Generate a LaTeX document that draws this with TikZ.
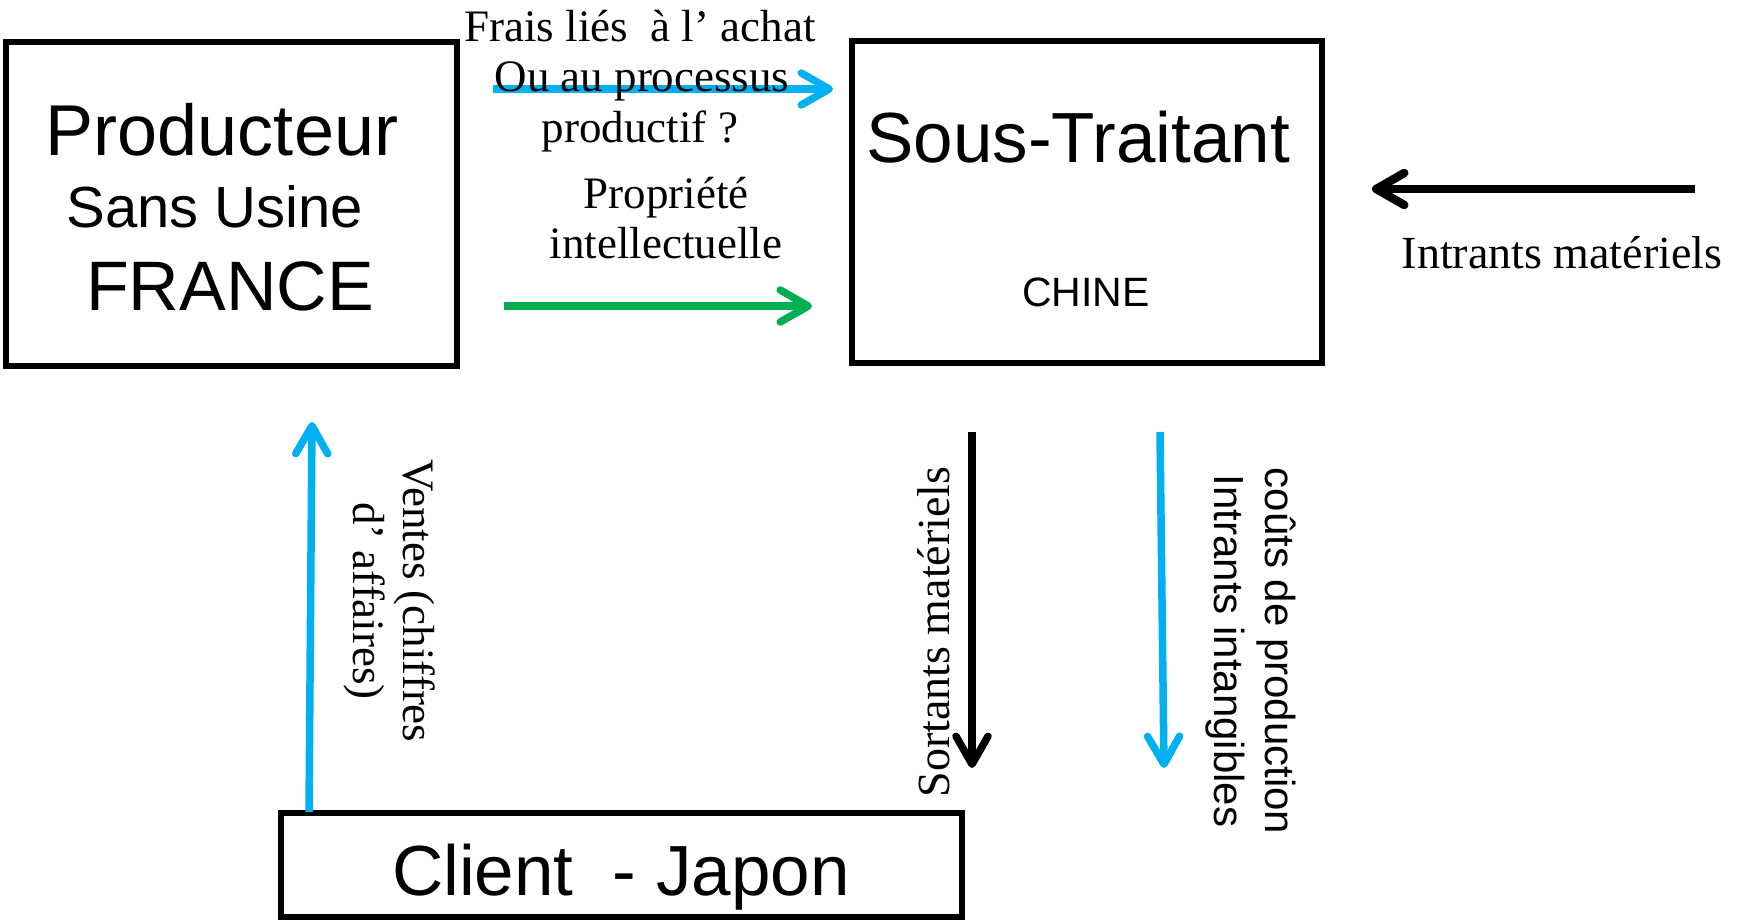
\documentclass[tikz,border=0pt]{standalone}
\usepackage{fontspec}
\setmainfont{Liberation Serif}
\newfontfamily\arial{Liberation Sans}
\usetikzlibrary{arrows.meta}
\definecolor{cblue}{HTML}{00B0F0}
\definecolor{cgreen}{HTML}{00B050}
\begin{document}
\begin{tikzpicture}[x=1pt,y=-1pt,
  box/.style={draw, line width=5.5pt, inner sep=0pt},
  big/.style={font=\arial\fontsize{72}{80}\selectfont, inner sep=0pt, anchor=base},
  serif/.style={font=\fontsize{45}{50}\selectfont, inner sep=0pt},
  flow/.style={line width=7.5pt,
    -{Straight Barb[length=28pt,width=32pt,line cap=round,line join=round]}},
  heavy/.style={line width=8.5pt,
    -{Straight Barb[length=28pt,width=32pt,line cap=round,line join=round]}}
]
\useasboundingbox (0,0) rectangle (1737,922);
% boxes
\node (prod) [box, minimum width=451pt, minimum height=324pt] at (231.5,204) {};
\node (sous) [box, minimum width=470pt, minimum height=322pt] at (1087,202) {};
\node (client) [box, minimum width=681pt, minimum height=104pt] at (621.5,865) {};
% box texts
\node (p1) [big] at (222,155) {Producteur};
\node (p2) [big, font=\arial\fontsize{58}{64}\selectfont] at (215,227) {Sans Usine};
\node (p3) [big, font=\arial\fontsize{70}{78}\selectfont] at (230,310) {FRANCE};
\node (s1) [big, font=\arial\fontsize{71}{78}\selectfont] at (1078,162) {Sous-Traitant};
\node (s2) [big, font=\arial\fontsize{41}{48}\selectfont] at (1086,306) {CHINE};
\node (c1) [big, font=\arial\fontsize{71}{78}\selectfont] at (621,895) {Client\ \ - Japon};
% arrow end points
\coordinate (a1s) at (493,89);   \coordinate (a1e) at (833,89);
\coordinate (a2s) at (504,306);  \coordinate (a2e) at (812,306);
\coordinate (a3s) at (1695,189); \coordinate (a3e) at (1372,189);
\coordinate (a4s) at (309,812);  \coordinate (a4e) at (312,422);
\coordinate (a5s) at (972,432);  \coordinate (a5e) at (972,768);
\coordinate (a6s) at (1160,432); \coordinate (a6e) at (1164,768);
% arrows
\draw[flow, cblue] (a1s) -- (a1e);
\draw[flow, cgreen] (a2s) -- (a2e);
\draw[heavy] (a3s) -- (a3e);
\draw[flow, cblue] (a4s) -- (a4e);
\draw[heavy, line width=7.5pt] (a5s) -- (a5e);
\draw[flow, cblue] (a6s) -- (a6e);
% labels
\node (t1) [serif, anchor=base] at (640,41) {Frais liés\ \ à l’ achat};
\node (t2) [serif, anchor=base] at (642,91) {Ou au processus};
\node (t3) [serif, anchor=base] at (640,142) {productif ?};
\node (t4) [serif, anchor=base] at (666,208) {Propriété};
\node (t5) [serif, anchor=base] at (666,258) {intellectuelle};
\node (t6) [serif, font=\fontsize{46}{50}\selectfont, anchor=base] at (1562,268) {Intrants matériels};
\node (t7) [serif, rotate=-90, align=center] at (390,601) {Ventes (chiffres\\d’ affaires)};
\node (t8) [serif, font=\fontsize{46}{50}\selectfont, rotate=90] at (934,632) {Sortants matériels};
\node (t9) [serif, font=\arial\fontsize{42}{51}\selectfont, rotate=-90, align=center] at (1251,651) {coûts de production\\Intrants intangibles};
\end{tikzpicture}
\end{document}
